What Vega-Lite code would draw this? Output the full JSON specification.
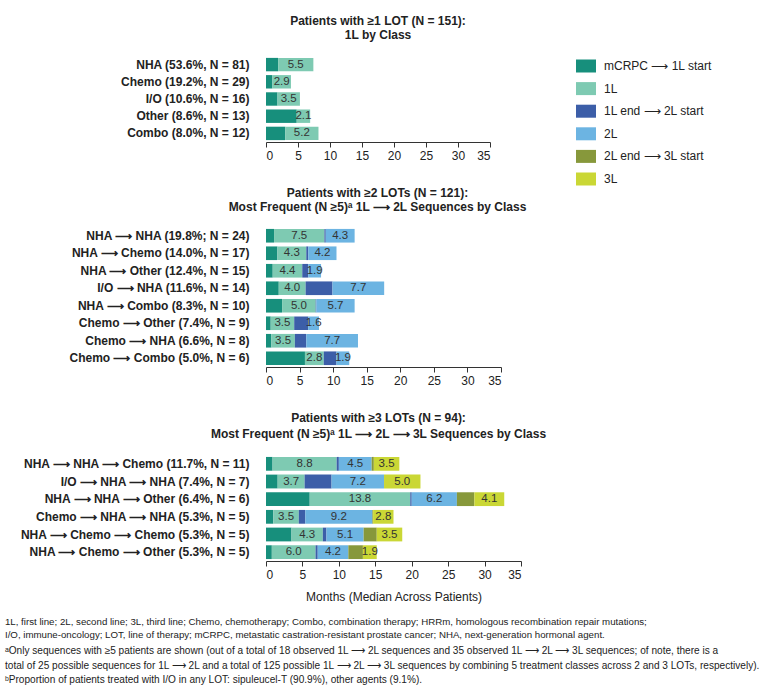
{
  "$schema": "https://vega.github.io/schema/vega-lite/v6.json",
  "background": "white",
  "padding": {"left": 4, "top": 15, "right": 2, "bottom": 2},
  "autosize": {"type": "pad"},
  "config": {
    "font": "Liberation Sans",
    "view": {"stroke": null},
    "concat": {"spacing": 26},
    "title": {"fontSize": 12, "fontWeight": "bold", "color": "#222222", "lineHeight": 14, "anchor": "middle", "frame": "group", "offset": 13},
    "axisX": {"domainColor": "#333333", "tickColor": "#333333", "labelColor": "#222222", "labelFontSize": 12, "tickSize": 5, "grid": false, "labelPadding": 3, "titleFontSize": 12, "titleFontWeight": "normal", "titleColor": "#222222", "titlePadding": 11},
    "axisY": {"domain": false, "ticks": false, "grid": false, "labelFontSize": 12, "labelFontWeight": "bold", "labelColor": "#222222", "labelPadding": 17, "labelLimit": 400, "title": null},
    "text": {"font": "Liberation Sans"}
  },
  "datasets": {
    "bars": [
      {"panel": 1, "row": "NHA (53.6%, N = 81)", "segment": "mCRPC ⟶ 1L start", "months": 1.9},
      {"panel": 1, "row": "NHA (53.6%, N = 81)", "segment": "1L", "months": 5.5},
      {"panel": 1, "row": "Chemo (19.2%, N = 29)", "segment": "mCRPC ⟶ 1L start", "months": 1.0},
      {"panel": 1, "row": "Chemo (19.2%, N = 29)", "segment": "1L", "months": 2.9},
      {"panel": 1, "row": "I/O (10.6%, N = 16)", "segment": "mCRPC ⟶ 1L start", "months": 1.8},
      {"panel": 1, "row": "I/O (10.6%, N = 16)", "segment": "1L", "months": 3.5},
      {"panel": 1, "row": "Other (8.6%, N = 13)", "segment": "mCRPC ⟶ 1L start", "months": 4.8},
      {"panel": 1, "row": "Other (8.6%, N = 13)", "segment": "1L", "months": 2.1},
      {"panel": 1, "row": "Combo (8.0%, N = 12)", "segment": "mCRPC ⟶ 1L start", "months": 3.0},
      {"panel": 1, "row": "Combo (8.0%, N = 12)", "segment": "1L", "months": 5.2},

      {"panel": 2, "row": "NHA ⟶ NHA (19.8%; N = 24)", "segment": "mCRPC ⟶ 1L start", "months": 1.2},
      {"panel": 2, "row": "NHA ⟶ NHA (19.8%; N = 24)", "segment": "1L", "months": 7.5},
      {"panel": 2, "row": "NHA ⟶ NHA (19.8%; N = 24)", "segment": "1L end ⟶ 2L start", "months": 0.2},
      {"panel": 2, "row": "NHA ⟶ NHA (19.8%; N = 24)", "segment": "2L", "months": 4.3},
      {"panel": 2, "row": "NHA ⟶ Chemo (14.0%, N = 17)", "segment": "mCRPC ⟶ 1L start", "months": 1.7},
      {"panel": 2, "row": "NHA ⟶ Chemo (14.0%, N = 17)", "segment": "1L", "months": 4.3},
      {"panel": 2, "row": "NHA ⟶ Chemo (14.0%, N = 17)", "segment": "1L end ⟶ 2L start", "months": 0.3},
      {"panel": 2, "row": "NHA ⟶ Chemo (14.0%, N = 17)", "segment": "2L", "months": 4.2},
      {"panel": 2, "row": "NHA ⟶ Other (12.4%, N = 15)", "segment": "mCRPC ⟶ 1L start", "months": 1.0},
      {"panel": 2, "row": "NHA ⟶ Other (12.4%, N = 15)", "segment": "1L", "months": 4.4},
      {"panel": 2, "row": "NHA ⟶ Other (12.4%, N = 15)", "segment": "1L end ⟶ 2L start", "months": 0.9},
      {"panel": 2, "row": "NHA ⟶ Other (12.4%, N = 15)", "segment": "2L", "months": 1.9},
      {"panel": 2, "row": "I/O ⟶ NHA (11.6%, N = 14)", "segment": "mCRPC ⟶ 1L start", "months": 1.9},
      {"panel": 2, "row": "I/O ⟶ NHA (11.6%, N = 14)", "segment": "1L", "months": 4.0},
      {"panel": 2, "row": "I/O ⟶ NHA (11.6%, N = 14)", "segment": "1L end ⟶ 2L start", "months": 4.0},
      {"panel": 2, "row": "I/O ⟶ NHA (11.6%, N = 14)", "segment": "2L", "months": 7.7},
      {"panel": 2, "row": "NHA ⟶ Combo (8.3%, N = 10)", "segment": "mCRPC ⟶ 1L start", "months": 2.4},
      {"panel": 2, "row": "NHA ⟶ Combo (8.3%, N = 10)", "segment": "1L", "months": 5.0},
      {"panel": 2, "row": "NHA ⟶ Combo (8.3%, N = 10)", "segment": "1L end ⟶ 2L start", "months": 0.1},
      {"panel": 2, "row": "NHA ⟶ Combo (8.3%, N = 10)", "segment": "2L", "months": 5.7},
      {"panel": 2, "row": "Chemo ⟶ Other (7.4%, N = 9)", "segment": "mCRPC ⟶ 1L start", "months": 0.7},
      {"panel": 2, "row": "Chemo ⟶ Other (7.4%, N = 9)", "segment": "1L", "months": 3.5},
      {"panel": 2, "row": "Chemo ⟶ Other (7.4%, N = 9)", "segment": "1L end ⟶ 2L start", "months": 2.1},
      {"panel": 2, "row": "Chemo ⟶ Other (7.4%, N = 9)", "segment": "2L", "months": 1.6},
      {"panel": 2, "row": "Chemo ⟶ NHA (6.6%, N = 8)", "segment": "mCRPC ⟶ 1L start", "months": 0.8},
      {"panel": 2, "row": "Chemo ⟶ NHA (6.6%, N = 8)", "segment": "1L", "months": 3.5},
      {"panel": 2, "row": "Chemo ⟶ NHA (6.6%, N = 8)", "segment": "1L end ⟶ 2L start", "months": 1.7},
      {"panel": 2, "row": "Chemo ⟶ NHA (6.6%, N = 8)", "segment": "2L", "months": 7.7},
      {"panel": 2, "row": "Chemo ⟶ Combo (5.0%, N = 6)", "segment": "mCRPC ⟶ 1L start", "months": 5.8},
      {"panel": 2, "row": "Chemo ⟶ Combo (5.0%, N = 6)", "segment": "1L", "months": 2.8},
      {"panel": 2, "row": "Chemo ⟶ Combo (5.0%, N = 6)", "segment": "1L end ⟶ 2L start", "months": 1.9},
      {"panel": 2, "row": "Chemo ⟶ Combo (5.0%, N = 6)", "segment": "2L", "months": 1.9},

      {"panel": 3, "row": "NHA ⟶ NHA ⟶ Chemo (11.7%, N = 11)", "segment": "mCRPC ⟶ 1L start", "months": 0.9},
      {"panel": 3, "row": "NHA ⟶ NHA ⟶ Chemo (11.7%, N = 11)", "segment": "1L", "months": 8.8},
      {"panel": 3, "row": "NHA ⟶ NHA ⟶ Chemo (11.7%, N = 11)", "segment": "1L end ⟶ 2L start", "months": 0.3},
      {"panel": 3, "row": "NHA ⟶ NHA ⟶ Chemo (11.7%, N = 11)", "segment": "2L", "months": 4.5},
      {"panel": 3, "row": "NHA ⟶ NHA ⟶ Chemo (11.7%, N = 11)", "segment": "2L end ⟶ 3L start", "months": 0.3},
      {"panel": 3, "row": "NHA ⟶ NHA ⟶ Chemo (11.7%, N = 11)", "segment": "3L", "months": 3.5},
      {"panel": 3, "row": "I/O  ⟶ NHA ⟶ NHA (7.4%, N = 7)", "segment": "mCRPC ⟶ 1L start", "months": 1.6},
      {"panel": 3, "row": "I/O  ⟶ NHA ⟶ NHA (7.4%, N = 7)", "segment": "1L", "months": 3.7},
      {"panel": 3, "row": "I/O  ⟶ NHA ⟶ NHA (7.4%, N = 7)", "segment": "1L end ⟶ 2L start", "months": 3.7},
      {"panel": 3, "row": "I/O  ⟶ NHA ⟶ NHA (7.4%, N = 7)", "segment": "2L", "months": 7.2},
      {"panel": 3, "row": "I/O  ⟶ NHA ⟶ NHA (7.4%, N = 7)", "segment": "2L end ⟶ 3L start", "months": 0.0},
      {"panel": 3, "row": "I/O  ⟶ NHA ⟶ NHA (7.4%, N = 7)", "segment": "3L", "months": 5.0},
      {"panel": 3, "row": "NHA ⟶ NHA ⟶ Other (6.4%, N = 6)", "segment": "mCRPC ⟶ 1L start", "months": 6.0},
      {"panel": 3, "row": "NHA ⟶ NHA ⟶ Other (6.4%, N = 6)", "segment": "1L", "months": 13.8},
      {"panel": 3, "row": "NHA ⟶ NHA ⟶ Other (6.4%, N = 6)", "segment": "1L end ⟶ 2L start", "months": 0.2},
      {"panel": 3, "row": "NHA ⟶ NHA ⟶ Other (6.4%, N = 6)", "segment": "2L", "months": 6.2},
      {"panel": 3, "row": "NHA ⟶ NHA ⟶ Other (6.4%, N = 6)", "segment": "2L end ⟶ 3L start", "months": 2.4},
      {"panel": 3, "row": "NHA ⟶ NHA ⟶ Other (6.4%, N = 6)", "segment": "3L", "months": 4.1},
      {"panel": 3, "row": "Chemo ⟶ NHA ⟶ NHA (5.3%, N = 5)", "segment": "mCRPC ⟶ 1L start", "months": 1.0},
      {"panel": 3, "row": "Chemo ⟶ NHA ⟶ NHA (5.3%, N = 5)", "segment": "1L", "months": 3.5},
      {"panel": 3, "row": "Chemo ⟶ NHA ⟶ NHA (5.3%, N = 5)", "segment": "1L end ⟶ 2L start", "months": 0.9},
      {"panel": 3, "row": "Chemo ⟶ NHA ⟶ NHA (5.3%, N = 5)", "segment": "2L", "months": 9.2},
      {"panel": 3, "row": "Chemo ⟶ NHA ⟶ NHA (5.3%, N = 5)", "segment": "2L end ⟶ 3L start", "months": 0.1},
      {"panel": 3, "row": "Chemo ⟶ NHA ⟶ NHA (5.3%, N = 5)", "segment": "3L", "months": 2.8},
      {"panel": 3, "row": "NHA ⟶ Chemo ⟶ Chemo (5.3%, N = 5)", "segment": "mCRPC ⟶ 1L start", "months": 3.5},
      {"panel": 3, "row": "NHA ⟶ Chemo ⟶ Chemo (5.3%, N = 5)", "segment": "1L", "months": 4.3},
      {"panel": 3, "row": "NHA ⟶ Chemo ⟶ Chemo (5.3%, N = 5)", "segment": "1L end ⟶ 2L start", "months": 0.5},
      {"panel": 3, "row": "NHA ⟶ Chemo ⟶ Chemo (5.3%, N = 5)", "segment": "2L", "months": 5.1},
      {"panel": 3, "row": "NHA ⟶ Chemo ⟶ Chemo (5.3%, N = 5)", "segment": "2L end ⟶ 3L start", "months": 1.8},
      {"panel": 3, "row": "NHA ⟶ Chemo ⟶ Chemo (5.3%, N = 5)", "segment": "3L", "months": 3.5},
      {"panel": 3, "row": "NHA ⟶ Chemo ⟶ Other (5.3%, N = 5)", "segment": "mCRPC ⟶ 1L start", "months": 0.8},
      {"panel": 3, "row": "NHA ⟶ Chemo ⟶ Other (5.3%, N = 5)", "segment": "1L", "months": 6.0},
      {"panel": 3, "row": "NHA ⟶ Chemo ⟶ Other (5.3%, N = 5)", "segment": "1L end ⟶ 2L start", "months": 0.3},
      {"panel": 3, "row": "NHA ⟶ Chemo ⟶ Other (5.3%, N = 5)", "segment": "2L", "months": 4.2},
      {"panel": 3, "row": "NHA ⟶ Chemo ⟶ Other (5.3%, N = 5)", "segment": "2L end ⟶ 3L start", "months": 2.0},
      {"panel": 3, "row": "NHA ⟶ Chemo ⟶ Other (5.3%, N = 5)", "segment": "3L", "months": 1.9}
    ]
  },
  "title": {
    "text": [
      "1L, first line; 2L, second line; 3L, third line; Chemo, chemotherapy; Combo, combination therapy; HRRm, homologous recombination repair mutations;",
      "I/O, immune-oncology; LOT, line of therapy; mCRPC, metastatic castration-resistant prostate cancer; NHA, next-generation hormonal agent."
    ],
    "subtitle": [
      "ᵃOnly sequences with ≥5 patients are shown (out of a total of 18 observed 1L ⟶ 2L sequences and 35 observed 1L ⟶ 2L ⟶ 3L sequences; of note, there is a",
      " total of 25 possible sequences for 1L ⟶ 2L and a total of 125 possible 1L ⟶ 2L ⟶ 3L sequences by combining 5 treatment classes across 2 and 3 LOTs, respectively).",
      "ᵇProportion of patients treated with I/O in any LOT: sipuleucel-T (90.9%), other agents (9.1%)."
    ],
    "orient": "bottom",
    "anchor": "start",
    "frame": "bounds",
    "dx": -15,
    "offset": 15,
    "font": "Liberation Sans",
    "fontSize": 9.7,
    "fontWeight": "normal",
    "color": "#222222",
    "lineHeight": 12.5,
    "subtitleFont": "Liberation Sans",
    "subtitleFontSize": 10.1,
    "subtitleColor": "#222222",
    "subtitleLineHeight": 14.5,
    "subtitlePadding": 7
  },
  "resolve": {"scale": {"color": "shared"}},
  "vconcat": [
    {
      "title": {"text": ["Patients with ≥1 LOT (N = 151):", "1L by Class"], "offset": 14},
      "width": 224,
      "height": 86,
      "data": {"name": "bars"},
      "transform": [
        {"filter": "datum.panel === 1"},
        {"calculate": "indexof(['mCRPC ⟶ 1L start','1L','1L end ⟶ 2L start','2L','2L end ⟶ 3L start','3L'], datum.segment)", "as": "segOrder"}
      ],
      "encoding": {
        "y": {"field": "row", "type": "nominal", "sort": null, "scale": {"paddingInner": 0.22, "paddingOuter": 0.11}},
        "x": {"field": "months", "type": "quantitative", "stack": "zero", "scale": {"domain": [0, 35], "nice": false}, "axis": {"values": [0, 5, 10, 15, 20, 25, 30, 35], "title": null}},
        "order": {"field": "segOrder", "type": "quantitative"}
      },
      "layer": [
        {
          "mark": {"type": "bar"},
          "encoding": {
            "color": {"field": "segment", "type": "nominal",
              "scale": {"domain": ["mCRPC ⟶ 1L start", "1L", "1L end ⟶ 2L start", "2L", "2L end ⟶ 3L start", "3L"],
                        "range": ["#178f7c", "#7ecab2", "#3c5ea8", "#6cb4e2", "#87983b", "#cad735"]},
              "legend": {"title": null, "orient": "none", "legendX": 310, "legendY": 0, "symbolType": "M-1,-0.65H1V0.65H-1Z", "symbolSize": 400, "symbolStrokeWidth": 0, "labelFontSize": 12, "labelColor": "#222222", "labelOffset": 8, "rowPadding": 5.6, "labelFont": "Liberation Sans"}
            }
          }
        },
        {
          "mark": {"type": "text", "fontSize": 11.5, "color": "#333333", "align": "center", "baseline": "middle"},
          "encoding": {
            "x": {"field": "months", "type": "quantitative", "stack": "zero", "bandPosition": 0.5},
            "detail": {"field": "segment"},
            "text": {"condition": {"test": "indexof(['1L','2L','3L'], datum.segment) >= 0", "field": "months", "format": ".1f"}, "value": ""}
          }
        }
      ]
    },
    {
      "title": {"text": ["Patients with ≥2 LOTs (N = 121):", "Most Frequent (N ≥5)ᵃ 1L ⟶ 2L Sequences by Class"], "dx": -6},
      "width": 235,
      "height": 140,
      "data": {"name": "bars"},
      "transform": [
        {"filter": "datum.panel === 2"},
        {"calculate": "indexof(['mCRPC ⟶ 1L start','1L','1L end ⟶ 2L start','2L','2L end ⟶ 3L start','3L'], datum.segment)", "as": "segOrder"}
      ],
      "encoding": {
        "y": {"field": "row", "type": "nominal", "sort": null, "scale": {"paddingInner": 0.22, "paddingOuter": 0.11}},
        "x": {"field": "months", "type": "quantitative", "stack": "zero", "scale": {"domain": [0, 35], "nice": false}, "axis": {"values": [0, 5, 10, 15, 20, 25, 30, 35], "title": null}},
        "order": {"field": "segOrder", "type": "quantitative"}
      },
      "layer": [
        {
          "mark": {"type": "bar"},
          "encoding": {"color": {"field": "segment", "type": "nominal"}}
        },
        {
          "mark": {"type": "text", "fontSize": 11.5, "color": "#333333", "align": "center", "baseline": "middle"},
          "encoding": {
            "x": {"field": "months", "type": "quantitative", "stack": "zero", "bandPosition": 0.5},
            "detail": {"field": "segment"},
            "text": {"condition": {"test": "indexof(['1L','2L','3L'], datum.segment) >= 0", "field": "months", "format": ".1f"}, "value": ""}
          }
        }
      ]
    },
    {
      "title": {"text": ["Patients with ≥3 LOTs (N = 94):", "Most Frequent (N ≥5)ᵃ 1L ⟶ 2L ⟶ 3L Sequences by Class"], "dx": -15, "lineHeight": 16, "offset": 14},
      "width": 255,
      "height": 106,
      "data": {"name": "bars"},
      "transform": [
        {"filter": "datum.panel === 3"},
        {"calculate": "indexof(['mCRPC ⟶ 1L start','1L','1L end ⟶ 2L start','2L','2L end ⟶ 3L start','3L'], datum.segment)", "as": "segOrder"}
      ],
      "encoding": {
        "y": {"field": "row", "type": "nominal", "sort": null, "scale": {"paddingInner": 0.22, "paddingOuter": 0.11}},
        "x": {"field": "months", "type": "quantitative", "stack": "zero", "scale": {"domain": [0, 35], "nice": false}, "axis": {"values": [0, 5, 10, 15, 20, 25, 30, 35], "title": "Months (Median Across Patients)"}},
        "order": {"field": "segOrder", "type": "quantitative"}
      },
      "layer": [
        {
          "mark": {"type": "bar"},
          "encoding": {"color": {"field": "segment", "type": "nominal"}}
        },
        {
          "mark": {"type": "text", "fontSize": 11.5, "color": "#333333", "align": "center", "baseline": "middle"},
          "encoding": {
            "x": {"field": "months", "type": "quantitative", "stack": "zero", "bandPosition": 0.5},
            "detail": {"field": "segment"},
            "text": {"condition": {"test": "indexof(['1L','2L','3L'], datum.segment) >= 0", "field": "months", "format": ".1f"}, "value": ""}
          }
        }
      ]
    }
  ]
}
